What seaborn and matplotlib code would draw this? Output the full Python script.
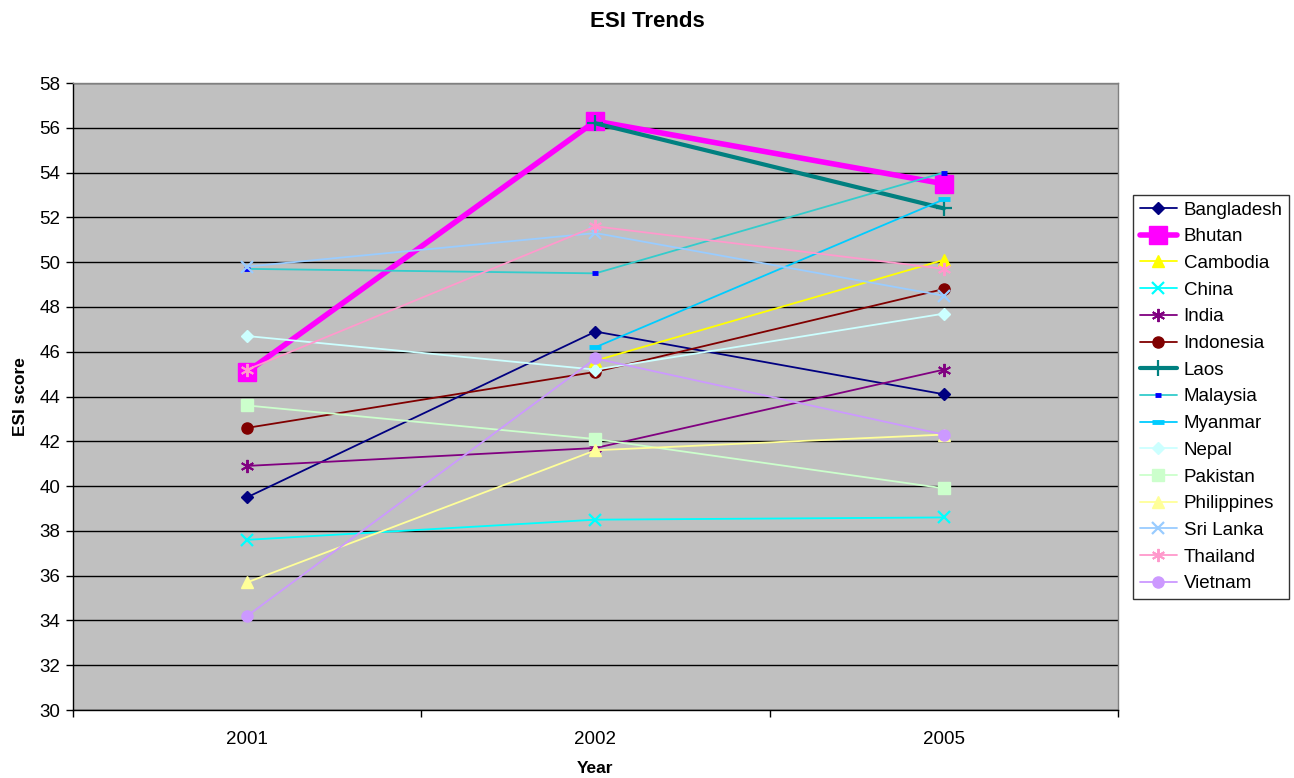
import numpy as np
import pandas as pd
import matplotlib
matplotlib.use("Agg")
import matplotlib.pyplot as plt
import seaborn as sns

sns.set_theme(style="white")
plt.rcParams["font.family"] = ["Liberation Sans", "DejaVu Sans"]
plt.rcParams.update({"text.color": "black", "axes.labelcolor": "black",
                     "xtick.color": "black", "ytick.color": "black"})

years = ["2001", "2002", "2005"]
countries = ["Bangladesh", "Bhutan", "Cambodia", "China", "India", "Indonesia",
             "Laos", "Malaysia", "Myanmar", "Nepal", "Pakistan", "Philippines",
             "Sri Lanka", "Thailand", "Vietnam"]

bangladesh = [39.5, 46.9, 44.1]
bhutan = [45.1, 56.3, 53.5]
cambodia = [np.nan, 45.6, 50.1]
china = [37.6, 38.5, 38.6]
india = [40.9, 41.7, 45.2]
indonesia = [42.6, 45.1, 48.8]
laos = [np.nan, 56.2, 52.4]
malaysia = [49.7, 49.5, 54.0]
myanmar = [np.nan, 46.2, 52.8]
nepal = [46.7, 45.2, 47.7]
pakistan = [43.6, 42.1, 39.9]
philippines = [35.7, 41.6, 42.3]
sri_lanka = [49.8, 51.3, 48.5]
thailand = [45.2, 51.6, 49.7]
vietnam = [34.2, 45.7, 42.3]

values = [bangladesh, bhutan, cambodia, china, india, indonesia, laos, malaysia,
          myanmar, nepal, pakistan, philippines, sri_lanka, thailand, vietnam]

asterisk = (6, 2, 0)
styles = {
    "Bangladesh": dict(color="#000080", marker="D", markersize=6.5, lw=1.3),
    "Bhutan": dict(color="#FF00FF", marker="s", markersize=13, lw=4.0),
    "Cambodia": dict(color="#FFFF00", marker="^", markersize=8.5, lw=1.3),
    "China": dict(color="#00FFFF", marker="x", markersize=8, lw=1.3, mew=1.6),
    "India": dict(color="#800080", marker=asterisk, markersize=9.5, lw=1.3, mew=1.4),
    "Indonesia": dict(color="#800000", marker="o", markersize=8, lw=1.3),
    "Laos": dict(color="#008080", marker="+", markersize=11, lw=3.0, mew=1.6),
    "Malaysia": dict(color="#33CCCC", marker="_", markersize=5, lw=1.3, mew=3.5, mec="#0000FF"),
    "Myanmar": dict(color="#00CCFF", marker="_", markersize=8, lw=1.3, mew=3.5),
    "Nepal": dict(color="#CCFFFF", marker="D", markersize=6.5, lw=1.3),
    "Pakistan": dict(color="#CCFFCC", marker="s", markersize=8.5, lw=1.3),
    "Philippines": dict(color="#FFFF99", marker="^", markersize=8.5, lw=1.3),
    "Sri Lanka": dict(color="#99CCFF", marker="x", markersize=8, lw=1.3, mew=1.6),
    "Thailand": dict(color="#FF99CC", marker=asterisk, markersize=9.5, lw=1.3, mew=1.4),
    "Vietnam": dict(color="#CC99FF", marker="o", markersize=8, lw=1.3),
}

fig = plt.figure(figsize=(12.94, 7.78), dpi=100)
ax = fig.add_axes([0.0564, 0.0874, 0.8076, 0.8059])
ax.set_facecolor("#C0C0C0")

pos = np.arange(len(years))
for name, vals in zip(countries, values):
    st = styles[name]
    df = pd.DataFrame({"pos": pos, "score": vals}).dropna()
    kw = dict(marker=st["marker"], markersize=st["markersize"],
              markeredgecolor=st.get("mec", st["color"]),
              markerfacecolor=st.get("mec", st["color"]),
              markeredgewidth=st.get("mew", 1.0))
    sns.lineplot(data=df, x="pos", y="score", ax=ax, color=st["color"],
                 linewidth=st["lw"], label=name, zorder=3, **kw)

ax.set_ylim(30, 58)
ax.set_yticks(np.arange(30, 59, 2))
ax.set_xlim(-0.5, 2.5)
ax.set_xticks(pos)
ax.set_xticklabels(years)
ax.set_xticks([-0.5, 0.5, 1.5, 2.5], minor=True)
ax.tick_params(axis="x", which="major", length=0, pad=15, labelsize=13.5)
ax.tick_params(axis="x", which="minor", length=5, width=1, color="black", direction="out", bottom=True)
ax.tick_params(axis="y", which="major", length=5, width=1, color="black", direction="out",
               left=True, labelsize=13.5, pad=4)
ax.grid(axis="y", color="black", linewidth=1.0, zorder=1)
ax.set_axisbelow(True)

for side in ["left", "bottom"]:
    ax.spines[side].set_color("black")
    ax.spines[side].set_linewidth(1.0)
for side in ["top", "right"]:
    ax.spines[side].set_color("#808080")
    ax.spines[side].set_linewidth(1.0)

ax.set_xlabel("Year", fontsize=12.5, fontweight="bold")
ax.xaxis.set_label_coords(0.5, -0.0815)
ax.set_ylabel("ESI score", fontsize=12.5, fontweight="bold", labelpad=8)
fig.suptitle("ESI Trends", fontsize=16, fontweight="bold", y=0.986)

leg = ax.legend(loc="upper left", bbox_to_anchor=(1.0144, 0.8214), frameon=True,
                fontsize=13.5, handlelength=2.0, labelspacing=0.51, borderpad=0.35,
                handletextpad=0.35, fancybox=False, borderaxespad=0)
leg.get_frame().set_edgecolor("black")
leg.get_frame().set_linewidth(1.0)
leg.get_frame().set_facecolor("white")

fig.savefig("out.png", dpi=100, facecolor="white")
